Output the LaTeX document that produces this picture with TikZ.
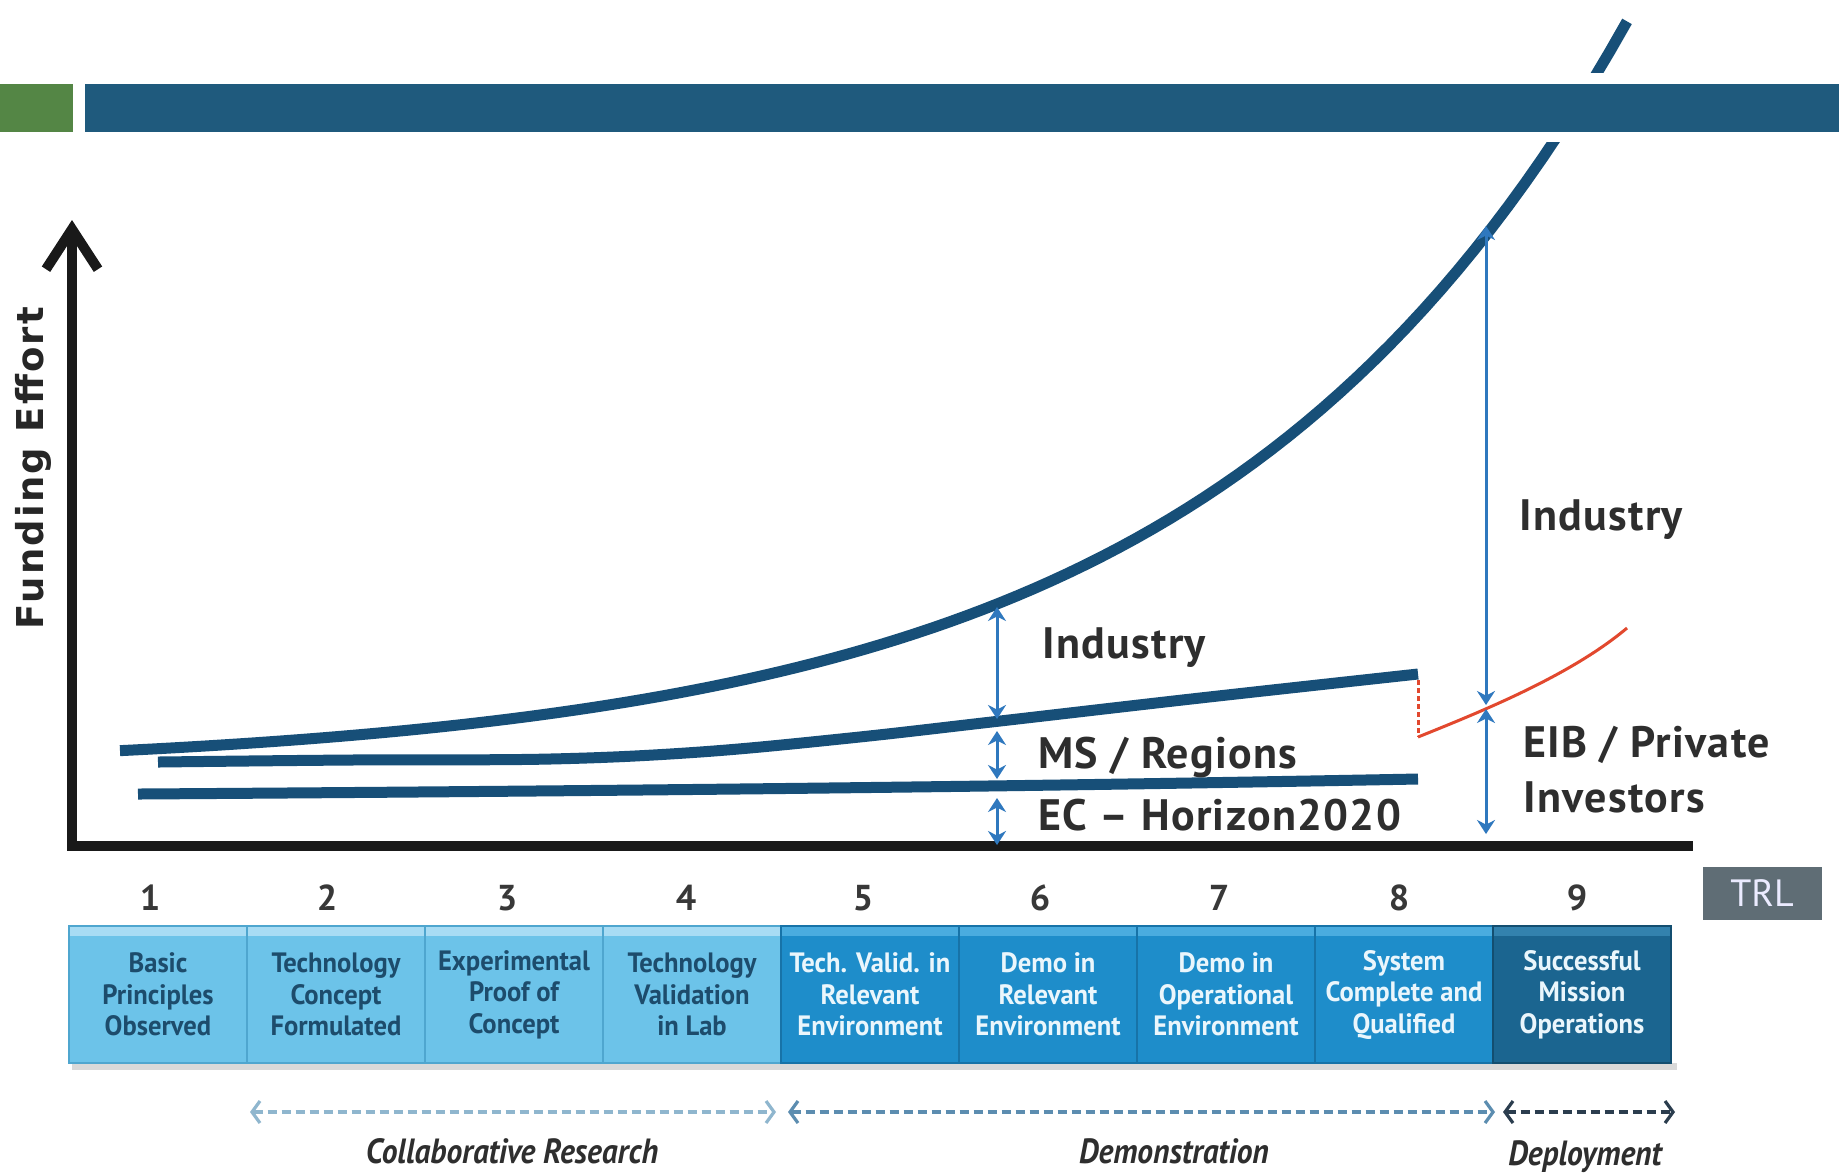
\documentclass[tikz,border=0pt]{standalone}
\usepackage{fontspec}
\setmainfont{PT Sans}
\newfontfamily\lblfont[LetterSpace=3]{PT Sans}
\newfontfamily\axfont[LetterSpace=6]{DejaVu Sans}
\newfontfamily\boxfont[FakeStretch=0.95]{PT Sans}
\newfontfamily\phfont[FakeStretch=0.9]{PT Sans}
\usetikzlibrary{arrows.meta}
\definecolor{hdrgreen}{HTML}{548645}
\definecolor{hdrblue}{HTML}{1F5A7D}
\definecolor{curvecol}{HTML}{174F78}
\definecolor{arrblue}{HTML}{2F78BE}
\definecolor{lbltext}{HTML}{2E2E2E}
\definecolor{redcol}{HTML}{E2482E}
\definecolor{boxA}{HTML}{6CC3E9}
\definecolor{boxAtop}{HTML}{A8DCF4}
\definecolor{boxAline}{HTML}{4FA6CF}
\definecolor{boxB}{HTML}{1E8DCA}
\definecolor{boxBtop}{HTML}{4AACDF}
\definecolor{boxBline}{HTML}{1773A8}
\definecolor{boxC}{HTML}{1B6590}
\definecolor{boxCtop}{HTML}{3382AE}
\definecolor{boxCline}{HTML}{134E70}
\definecolor{txtA}{HTML}{1D4C6C}
\definecolor{txtB}{HTML}{EAF6FC}
\definecolor{trlgray}{HTML}{5F6D75}
\definecolor{collabcol}{HTML}{8FB6CE}
\definecolor{democol}{HTML}{5C8DB0}
\definecolor{deploycol}{HTML}{2B3D4E}
\begin{document}
\begin{tikzpicture}[x=0.5pt,y=-0.5pt,
  curvestyle/.style={draw=curvecol, line width=5.5pt},
  axisstyle/.style={draw=black!90, line width=5pt},
  varr/.style={draw=arrblue, line width=1.5pt, {Stealth[length=7pt,width=9pt]}-{Stealth[length=7pt,width=9pt]}},
  lbl/.style={anchor=base west, inner sep=0pt, text=lbltext, font=\lblfont\bfseries\fontsize{22}{26}\selectfont},
  numstyle/.style={inner sep=0pt, text=black!78, font=\bfseries\fontsize{18}{20}\selectfont},
  trlbox/.style={minimum width=89pt, minimum height=68.5pt, inner sep=0pt, align=center,
     font=\boxfont\bfseries\fontsize{14}{15.75}\selectfont},
  boxa/.style={trlbox, fill=boxA, draw=boxAline, line width=0.8pt, text=txtA,
     path picture={\fill[boxAtop] (path picture bounding box.north west) rectangle ([yshift=-5pt]path picture bounding box.north east);}},
  boxb/.style={trlbox, fill=boxB, draw=boxBline, line width=0.8pt, text=txtB,
     path picture={\fill[boxBtop] (path picture bounding box.north west) rectangle ([yshift=-5pt]path picture bounding box.north east);}},
  boxc/.style={trlbox, fill=boxC, draw=boxCline, line width=0.8pt, text=txtB,
     path picture={\fill[boxCtop] (path picture bounding box.north west) rectangle ([yshift=-5pt]path picture bounding box.north east);}},
  phase/.style={line width=1.6pt, dash pattern=on 4.5pt off 2.5pt, {Straight Barb[length=4pt,width=11pt]}-{Straight Barb[length=4pt,width=11pt]}},
  phaselbl/.style={anchor=base, inner sep=0pt, text=black!82, font=\phfont\bfseries\itshape\fontsize{17.5}{20}\selectfont}
]
\useasboundingbox (0,0) rectangle (1839,1175);
\fill[white] (0,0) rectangle (1839,1175);

% funding curves
\draw[curvestyle] plot[domain=120:1627, samples=90] (\x, {771.4-15.6*exp(0.002387*\x)});
\draw[curvestyle] plot[smooth, tension=0.6] coordinates {(158,762) (350,760) (550,759) (700,752) (850,738) (1000,721) (1200,698) (1418,674)};
\draw[curvestyle] (138,794) .. controls (600,791) and (1000,787) .. (1418,779);

% red continuation
\draw[redcol, line width=1.5pt, dash pattern=on 2.5pt off 1.5pt] (1418,680) -- (1418,737);
\draw[redcol, line width=1.5pt] (1418,737) .. controls (1480,712) and (1570,676) .. (1627,628);

% header band
\fill[white] (0,73) rectangle (1839,142);
\fill[hdrgreen] (0,84) rectangle (73,132);
\fill[hdrblue] (85,84) rectangle (1839,132);

% axes
\draw[axisstyle, {Straight Barb[length=20pt,width=26pt]}-] (72,220) -- (72,846) -- (1693,846);
\node[rotate=90, anchor=base, inner sep=0pt, text=black!85, font=\axfont\bfseries\fontsize{18.5}{20}\selectfont] (yl) at (43,468) {Funding Effort};

% vertical funding arrows
\coordinate (a1) at (997,607);
\coordinate (a2) at (997,719);
\coordinate (a3) at (997,731);
\coordinate (a4) at (997,779);
\coordinate (a5) at (997,798);
\coordinate (a6) at (997,845);
\draw[varr] (a1) -- (a2);
\draw[varr] (a3) -- (a4);
\draw[varr] (a5) -- (a6);
\coordinate (c1) at (1486,226);
\coordinate (c2) at (1486,705);
\coordinate (c3) at (1486,709);
\coordinate (c4) at (1486,834);
\draw[varr] (c1) -- (c2);
\draw[varr] (c3) -- (c4);

% labels
\node[lbl] (ind1) at (1042,658) {Industry};
\node[lbl] (ms) at (1038,768) {MS / Regions};
\node[lbl] (ec) at (1038,830) {EC – Horizon2020};
\node[lbl] (ind2) at (1519,530) {Industry};
\node[lbl] (eib) at (1523,757) {EIB / Private};
\node[lbl] (inv) at (1523,812) {Investors};

% TRL boxes
\fill[black!15] (72,1063) rectangle (1677,1070);
\node[boxa] (b1) at (158,994.5) {Basic\\Principles\\Observed};
\node[boxa] (b2) at (336,994.5) {Technology\\Concept\\Formulated};
\node[boxa] (b3) at (514,994.5) {Experimental\\Proof of\\Concept};
\node[boxa] (b4) at (692,994.5) {Technology\\Validation\\in Lab};
\node[boxb] (b5) at (870,994.5) {Tech. Valid. in\\Relevant\\Environment};
\node[boxb] (b6) at (1048,994.5) {Demo in\\Relevant\\Environment};
\node[boxb] (b7) at (1226,994.5) {Demo in\\Operational\\Environment};
\node[boxb] (b8) at (1404,994.5) {System\\Complete and\\Qualified};
\node[boxc] (b9) at (1582,994.5) {Successful\\Mission\\Operations};

\foreach \i/\xx in {1/150,2/327,3/507,4/686,5/863,6/1040,7/1219,8/1399,9/1577}
  \node[numstyle] (n\i) at (\xx,898) {\i};

\node[fill=trlgray, minimum width=59.5pt, minimum height=26.5pt, inner sep=0pt, text=white!92!blue, font=\fontsize{19}{20}\selectfont] (trl) at (1762,893) {TRL};

% phases
\coordinate (p1) at (250,1112);
\coordinate (p2) at (776,1112);
\coordinate (p3) at (788,1112);
\coordinate (p4) at (1495,1112);
\coordinate (p5) at (1503,1112);
\coordinate (p6) at (1675,1112);
\draw[phase, collabcol] (p1) -- (p2);
\draw[phase, democol] (p3) -- (p4);
\draw[phase, deploycol] (p5) -- (p6);
\node[phaselbl] (ph1) at (512,1163) {Collaborative Research};
\node[phaselbl] (ph2) at (1174,1163) {Demonstration};
\node[phaselbl] (ph3) at (1585,1165) {Deployment};
\end{tikzpicture}
\end{document}
